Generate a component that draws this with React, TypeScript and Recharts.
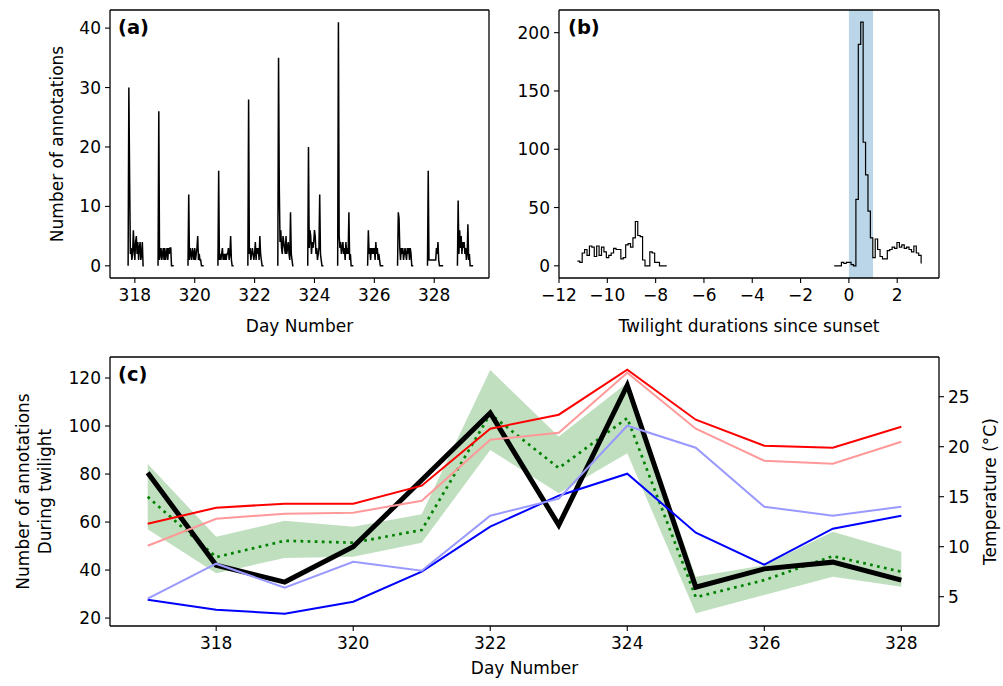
import { LineChart, ComposedChart, Line, Area, XAxis, YAxis, ReferenceArea, Label } from 'recharts';

const FONT = "'DejaVu Sans', sans-serif";

// (a) annotations per sample, one list per evening (day number)
const CLUSTER_DAYS = [317, 318, 319, 320, 321, 322, 323, 324, 325, 326, 327, 328];
const CLUSTER_COUNTS = [
  [0, 30, 15, 2, 3, 1, 2, 6, 3, 1, 4, 5, 2, 4, 1, 3, 4, 1, 2, 4, 0, 0],
  [0, 26, 1, 2, 3, 1, 2, 3, 1, 3, 1, 2, 3, 1, 3, 2, 3, 3, 0, 0, 0, 0],
  [0, 12, 1, 3, 2, 1, 3, 2, 1, 3, 1, 2, 3, 5, 1, 2, 1, 1, 0, 0, 0, 0],
  [0, 16, 1, 2, 1, 2, 3, 1, 2, 1, 2, 1, 2, 2, 3, 1, 2, 5, 1, 0, 0, 0],
  [0, 28, 2, 3, 1, 2, 3, 2, 1, 2, 4, 1, 3, 2, 3, 1, 5, 2, 1, 0, 0, 0],
  [0, 35, 13, 4, 6, 3, 2, 5, 4, 3, 2, 5, 2, 3, 4, 2, 1, 9, 2, 1, 0, 0],
  [0, 20, 3, 6, 5, 2, 4, 3, 4, 6, 5, 2, 3, 1, 2, 3, 12, 2, 1, 0, 0, 0],
  [0, 41, 5, 3, 4, 2, 3, 4, 2, 3, 1, 4, 2, 3, 2, 9, 1, 2, 0, 0, 0, 0],
  [0, 6, 2, 3, 1, 3, 2, 3, 2, 3, 1, 4, 2, 3, 1, 2, 1, 0, 0, 0, 0, 0],
  [0, 9, 8, 3, 1, 3, 2, 3, 1, 2, 3, 2, 1, 3, 2, 3, 1, 3, 2, 0, 0, 0],
  [0, 16, 1, 1, 1, 1, 1, 1, 1, 1, 1, 1, 3, 2, 4, 1, 0, 0, 0, 0, 0, 0],
  [0, 11, 2, 6, 3, 5, 2, 4, 3, 4, 2, 3, 1, 2, 7, 1, 2, 0, 0, 0, 0, 0],
];
const CLUSTER_OFFSET = 0.775; // fraction of day where each evening starts
const SAMPLE_STEP = 0.025;

// (b) histogram counts, 0.1 h bins
const EARLY_START = -11.24;
const EARLY_COUNTS = [4, 3, 11, 14, 9, 17, 16, 8, 17, 9, 16, 12, 7, 9, 11, 15, 14, 14, 6, 7, 18, 19, 16, 24, 38, 26, 25, 5, 0, 0, 12, 11, 3, 3, 0, 0, 0];
const LATE_START = -0.61;
const LATE_COUNTS = [0, 0, 0, 3, 2, 3, 3, 1, 0, 57, 190, 209, 106, 78, 47, 24, 7, 23, 14, 8, 6, 6, 13, 14, 16, 15, 20, 16, 18, 15, 16, 14, 12, 17, 11, 9];
const LATE_END_VALUE = 2;
const BIN = 0.1;

// (c) daily values
const DAYS = [317, 318, 319, 320, 321, 322, 323, 324, 325, 326, 327, 328];
const TWILIGHT_ANN = [80.5, 42, 35, 49.7, 77.5, 105.4, 58.7, 117, 32.9, 40.5, 43.3, 35.8];
const MEAN_ANN = [70.5, 45.4, 52.2, 51.4, 56.7, 105, 82.5, 103.3, 28.7, 35.8, 45.8, 39.3];
const BAND_LOW = [57, 38.7, 45, 45.5, 51.4, 90, 72, 88.7, 22, 29.6, 37.2, 33];
const BAND_HIGH = [84.2, 53.9, 60.5, 58, 63.3, 123.3, 95.6, 118, 37.2, 42, 56, 47.6];
const T_MAX = [12.3, 13.9, 14.3, 14.3, 16.1, 21.8, 23.2, 27.7, 22.7, 20.1, 19.9, 22.0];
const T_MAX_LIGHT = [10.1, 12.8, 13.3, 13.4, 14.6, 20.7, 21.4, 27.4, 21.8, 18.6, 18.3, 20.5];
const T_MIN = [4.7, 3.7, 3.3, 4.5, 7.5, 12.0, 15.1, 17.3, 11.4, 8.2, 11.8, 13.1];
const T_MIN_LIGHT = [4.8, 8.3, 5.9, 8.5, 7.6, 13.1, 14.8, 22.1, 19.9, 14.0, 13.1, 14.0];

const DAY_TICKS = [318, 320, 322, 324, 326, 328];

const activityRows: { x: number; count: number | null }[] = [];
CLUSTER_DAYS.forEach((d, i) => {
  const counts = CLUSTER_COUNTS[i];
  counts.forEach((c, k) => activityRows.push({ x: d + CLUSTER_OFFSET + k * SAMPLE_STEP, count: c }));
  activityRows.push({ x: d + CLUSTER_OFFSET + counts.length * SAMPLE_STEP, count: null });
});

const histRows: { x: number; early?: number; late?: number }[] = [];
EARLY_COUNTS.forEach((v, k) => histRows.push({ x: EARLY_START + k * BIN, early: v }));
histRows.push({ x: EARLY_START + EARLY_COUNTS.length * BIN, early: 0 });
LATE_COUNTS.forEach((v, k) => histRows.push({ x: LATE_START + k * BIN, late: v }));
histRows.push({ x: LATE_START + LATE_COUNTS.length * BIN, late: LATE_END_VALUE });

const dailyRows = DAYS.map((d, i) => ({
  day: d,
  ann: TWILIGHT_ANN[i],
  mean: MEAN_ANN[i],
  band: [BAND_LOW[i], BAND_HIGH[i]],
  tMax: T_MAX[i],
  tMaxLight: T_MAX_LIGHT[i],
  tMin: T_MIN[i],
  tMinLight: T_MIN_LIGHT[i],
}));

const tick = { fill: '#000', fontSize: 17, fontFamily: FONT };
const frame = { stroke: '#000', strokeWidth: 1.3 };
const tickLine = { stroke: '#000', strokeWidth: 1.1 };
const labelProps = { fill: '#000', fontSize: 17, fontFamily: FONT };
const minus = (v: number) => (v < 0 ? `\u2212${Math.abs(v)}` : `${v}`);

export default function App() {
  return (
    <div style={{ position: 'absolute', left: 0, top: 0, width: 1003, height: 686, background: '#fff' }}>
      {/* (a) */}
      <div style={{ position: 'absolute', left: 0, top: 0 }}>
        <LineChart width={500} height={345} data={activityRows} margin={{ top: 9, right: 10, bottom: 0, left: 0 }}>
          <XAxis xAxisId="b" dataKey="x" type="number" domain={[317.17, 329.83]} ticks={DAY_TICKS}
            height={67} tick={tick} tickSize={5} tickMargin={6} axisLine={frame} tickLine={tickLine}>
            <Label value="Day Number" position="center" dy={14} {...labelProps} />
          </XAxis>
          <XAxis xAxisId="t" orientation="top" type="number" domain={[0, 1]} height={1} tick={false} tickLine={false} axisLine={frame} />
          <YAxis yAxisId="l" type="number" domain={[-2.05, 43.05]} ticks={[0, 10, 20, 30, 40]} width={110}
            tick={tick} tickSize={5} tickMargin={4} axisLine={frame} tickLine={tickLine}>
            <Label value="Number of annotations" angle={-90} position="center" dx={2} {...labelProps} />
          </YAxis>
          <YAxis yAxisId="r" orientation="right" type="number" domain={[0, 1]} width={1} tick={false} tickLine={false} axisLine={frame} />
          <Line xAxisId="b" yAxisId="l" dataKey="count" type="linear" stroke="#000" strokeWidth={1.5}
            dot={false} activeDot={false} isAnimationActive={false} connectNulls={false} />
        </LineChart>
      </div>

      {/* (b) */}
      <div style={{ position: 'absolute', left: 500, top: 0 }}>
        <LineChart width={503} height={345} data={histRows} margin={{ top: 9, right: 63, bottom: 0, left: 0 }}>
          <XAxis xAxisId="b" dataKey="x" type="number" domain={[-12, 3.73]} ticks={[-12, -10, -8, -6, -4, -2, 0, 2]}
            tickFormatter={minus} height={67} tick={tick} tickSize={5} tickMargin={6} axisLine={frame} tickLine={tickLine}>
            <Label value="Twilight durations since sunset" position="center" dy={14} {...labelProps} />
          </XAxis>
          <XAxis xAxisId="t" orientation="top" type="number" domain={[0, 1]} height={1} tick={false} tickLine={false} axisLine={frame} />
          <YAxis yAxisId="l" type="number" domain={[-10.45, 219.45]} ticks={[0, 50, 100, 150, 200]} width={59}
            tick={tick} tickSize={5} tickMargin={4} axisLine={frame} tickLine={tickLine} />
          <YAxis yAxisId="r" orientation="right" type="number" domain={[0, 1]} width={1} tick={false} tickLine={false} axisLine={frame} />
          <ReferenceArea xAxisId="b" yAxisId="l" x1={0} x2={1} y1={-10.45} y2={219.45} fill="#1f77b4" fillOpacity={0.3} stroke="none" ifOverflow="visible" />
          <Line xAxisId="b" yAxisId="l" dataKey="early" type="stepAfter" stroke="#000" strokeWidth={1.2}
            dot={false} activeDot={false} isAnimationActive={false} connectNulls={false} />
          <Line xAxisId="b" yAxisId="l" dataKey="late" type="stepAfter" stroke="#000" strokeWidth={1.2}
            dot={false} activeDot={false} isAnimationActive={false} connectNulls={false} />
        </LineChart>
      </div>

      {/* (c) */}
      <div style={{ position: 'absolute', left: 0, top: 345 }}>
        <ComposedChart width={1003} height={341} data={dailyRows} margin={{ top: 11, right: 0, bottom: 0, left: 0 }}>
          <XAxis xAxisId="b" dataKey="day" type="number" domain={[316.45, 328.55]} ticks={DAY_TICKS}
            height={60} tick={tick} tickSize={5} tickMargin={6} axisLine={frame} tickLine={tickLine}>
            <Label value="Day Number" position="center" dy={12} {...labelProps} />
          </XAxis>
          <XAxis xAxisId="t" orientation="top" type="number" domain={[0, 1]} height={1} tick={false} tickLine={false} axisLine={frame} />
          <YAxis yAxisId="l" type="number" domain={[16.7, 128.75]} ticks={[20, 40, 60, 80, 100, 120]} width={110}
            tick={tick} tickSize={5} tickMargin={4} axisLine={frame} tickLine={tickLine}>
            <Label value="Number of annotations" angle={-90} position="center" dx={-32} {...labelProps} />
            <Label value="During twilight" angle={-90} position="center" dx={-10} {...labelProps} />
          </YAxis>
          <YAxis yAxisId="r" orientation="right" type="number" domain={[2.07, 28.97]} ticks={[5, 10, 15, 20, 25]} width={64}
            tick={tick} tickSize={5} tickMargin={4} axisLine={frame} tickLine={tickLine}>
            <Label value="Temperature (°C)" angle={-90} position="center" dx={19} {...labelProps} />
          </YAxis>
          <Area xAxisId="b" yAxisId="l" dataKey="band" type="linear" stroke="none" fill="#008000" fillOpacity={0.25}
            dot={false} activeDot={false} isAnimationActive={false} />
          <Line xAxisId="b" yAxisId="l" dataKey="mean" type="linear" stroke="#008000" strokeWidth={2.7} strokeDasharray="2.7 4.4"
            dot={false} activeDot={false} isAnimationActive={false} />
          <Line xAxisId="b" yAxisId="l" dataKey="ann" type="linear" stroke="#000" strokeWidth={5}
            dot={false} activeDot={false} isAnimationActive={false} />
          <Line xAxisId="b" yAxisId="r" dataKey="tMax" type="linear" stroke="#ff0000" strokeWidth={2}
            dot={false} activeDot={false} isAnimationActive={false} />
          <Line xAxisId="b" yAxisId="r" dataKey="tMaxLight" type="linear" stroke="#ff9999" strokeWidth={2}
            dot={false} activeDot={false} isAnimationActive={false} />
          <Line xAxisId="b" yAxisId="r" dataKey="tMin" type="linear" stroke="#0000ff" strokeWidth={2}
            dot={false} activeDot={false} isAnimationActive={false} />
          <Line xAxisId="b" yAxisId="r" dataKey="tMinLight" type="linear" stroke="#9999ff" strokeWidth={2}
            dot={false} activeDot={false} isAnimationActive={false} />
        </ComposedChart>
      </div>

      {/* panel letters */}
      <svg width={1003} height={686} style={{ position: 'absolute', left: 0, top: 0, pointerEvents: 'none' }}>
        <text x={118} y={34} fontFamily={FONT} fontWeight="bold" fontSize={19.5} fill="#000">(a)</text>
        <text x={568} y={34} fontFamily={FONT} fontWeight="bold" fontSize={19.5} fill="#000">(b)</text>
        <text x={118} y={381} fontFamily={FONT} fontWeight="bold" fontSize={19.5} fill="#000">(c)</text>
      </svg>
    </div>
  );
}
